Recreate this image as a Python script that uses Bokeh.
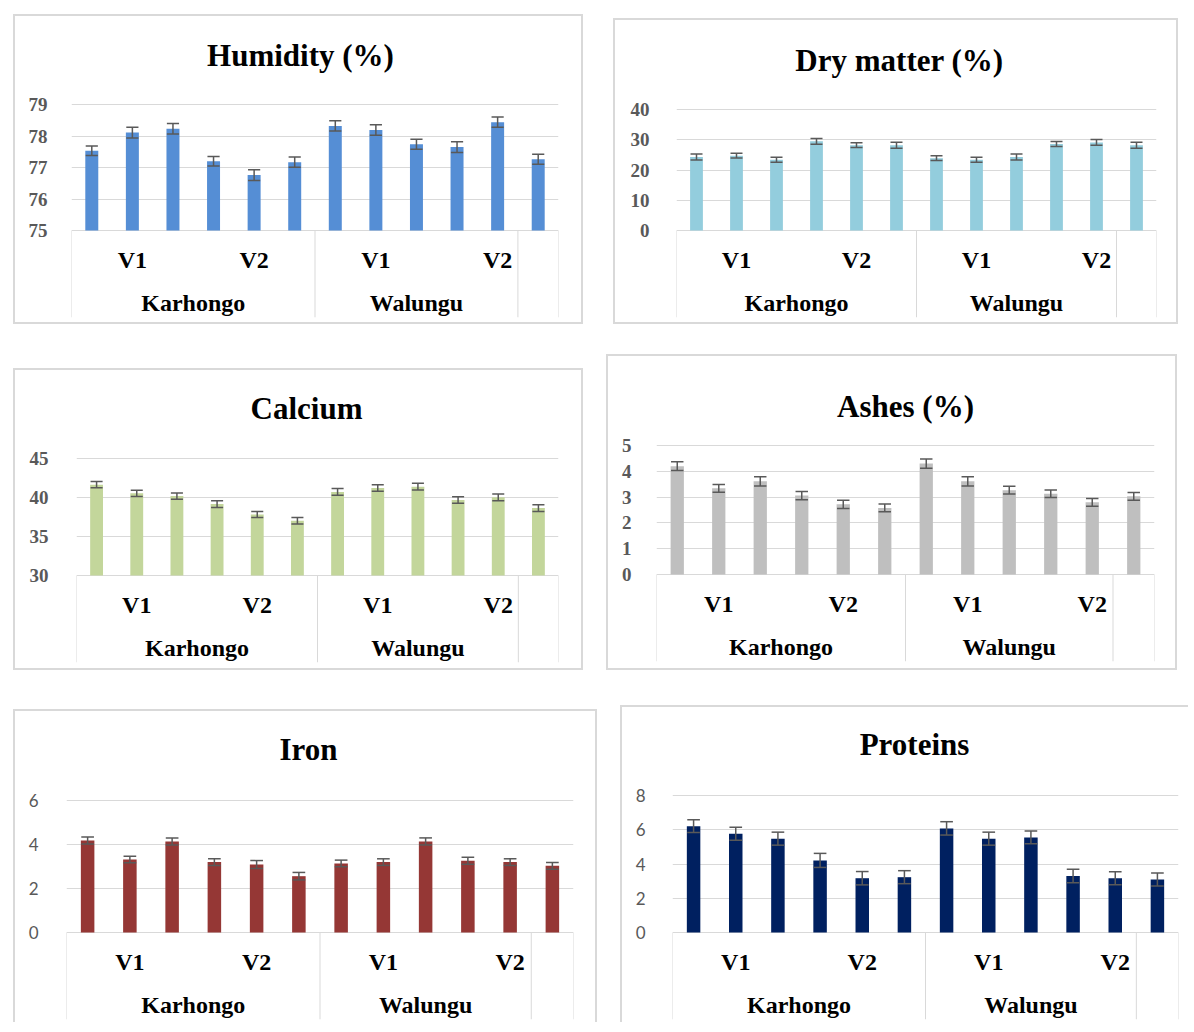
from bokeh.plotting import figure
from bokeh.models import Range1d, FixedTicker, Spacer
from bokeh.layouts import row, column
from bokeh.core.properties import value
from bokeh.embed import file_html
from bokeh.resources import INLINE

# ---------------- data ----------------
varieties = ["V1", "V1", "V1", "V2", "V2", "V2", "V1", "V1", "V1", "V2", "V2", "V2"]
sites = ["Karhongo"] * 6 + ["Walungu"] * 5 + [""]

humidity = [77.53, 78.11, 78.23, 77.20, 76.76, 77.17, 78.32, 78.19, 77.74, 77.65, 78.44, 77.26]
humidity_err = [0.15, 0.17, 0.17, 0.15, 0.17, 0.165, 0.165, 0.165, 0.16, 0.17, 0.16, 0.16]
humidity_ticks = [75, 76, 77, 78, 79]

dry_matter = [24.3, 24.75, 23.4, 29.5, 28.2, 28.2, 23.9, 23.4, 24.3, 28.6, 29.1, 28.2]
dry_matter_err = [1.0, 0.8, 0.8, 0.95, 0.8, 1.0, 0.8, 0.8, 1.0, 0.8, 0.95, 1.0]
dry_matter_ticks = [0, 10, 20, 30, 40]

calcium = [41.65, 40.54, 40.19, 39.16, 37.83, 37.02, 40.71, 41.22, 41.39, 39.68, 40.02, 38.65]
calcium_err = [0.4, 0.4, 0.4, 0.43, 0.39, 0.43, 0.43, 0.43, 0.43, 0.43, 0.43, 0.43]
calcium_ticks = [30, 35, 40, 45]

ashes = [4.20, 3.34, 3.61, 3.06, 2.72, 2.58, 4.30, 3.61, 3.27, 3.13, 2.80, 3.03]
ashes_err = [0.17, 0.15, 0.18, 0.16, 0.16, 0.15, 0.18, 0.18, 0.15, 0.15, 0.15, 0.15]
ashes_ticks = [0, 1, 2, 3, 4, 5]

iron = [4.18, 3.32, 4.14, 3.20, 3.09, 2.56, 3.14, 3.20, 4.14, 3.26, 3.20, 3.03]
iron_err = [0.16, 0.15, 0.16, 0.15, 0.18, 0.17, 0.15, 0.15, 0.16, 0.16, 0.15, 0.15]
iron_ticks = [0, 2, 4, 6]

proteins = [6.21, 5.77, 5.48, 4.21, 3.17, 3.23, 6.08, 5.48, 5.55, 3.30, 3.17, 3.09]
proteins_err = [0.37, 0.38, 0.38, 0.41, 0.39, 0.38, 0.39, 0.38, 0.37, 0.39, 0.38, 0.38]
proteins_ticks = [0, 2, 4, 6, 8]

GRID = "#d9d9d9"
SERIF = "Liberation Serif"


def runs(labels):
    out = []
    start = 0
    for i in range(1, len(labels) + 1):
        if i == len(labels) or labels[i] != labels[start]:
            out.append((labels[start], start, i))
            start = i
    return out


def panel(title, vals, errs, ticks, color, geo, serif_ticks=True):
    ox, oy, ow, oh = geo["outer"]
    bl, bt, br, bb = geo["borders"]
    cw, ch = ow - bl - br, oh - bt - bb
    cx0, cy0 = ox + bl, oy + bt
    fl, fr = geo["frame_x"]
    base_px, top_px = geo["base_px"], geo["top_px"]
    ppu = (base_px - top_px) / (ticks[-1] - ticks[0])
    frame_bottom = min(base_px + 87, cy0 + ch)
    n = len(vals)
    cat_w = (fr - fl) / n
    base = ticks[0]
    y0 = base - (frame_bottom - base_px) / ppu
    y1 = base + (base_px - cy0) / ppu

    styles = {}
    for side, w in zip(["left", "top", "right", "bottom"], [bl, bt, br, bb]):
        styles["border-" + side] = f"{w}px solid {GRID}" if w else "none"

    p = figure(width=cw, height=ch, output_backend="svg", toolbar_location=None,
               tools="", x_range=Range1d(0, n), y_range=Range1d(y0, y1),
               x_axis_location=None,
               min_border_left=fl - cx0, min_border_right=cx0 + cw - fr,
               min_border_top=0, min_border_bottom=cy0 + ch - frame_bottom,
               styles=styles)
    p.outline_line_color = None
    p.background_fill_color = "white"
    p.border_fill_color = "white"

    tk = FixedTicker(ticks=ticks)
    ax = p.yaxis[0]
    ax.ticker = tk
    ax.axis_line_color = None
    ax.major_tick_line_color = None
    ax.minor_tick_line_color = None
    ax.major_label_standoff = geo["standoff"]
    ax.major_label_text_color = "#595959"
    if serif_ticks:
        ax.major_label_text_font = SERIF
        ax.major_label_text_font_style = "bold"
        ax.major_label_text_font_size = "19px"
    else:
        ax.major_label_text_font = "Lato"
        ax.major_label_text_font_style = "normal"
        ax.major_label_text_font_size = "17px"
    p.ygrid.ticker = tk
    p.ygrid.grid_line_color = GRID
    p.ygrid.grid_line_width = 1
    p.xgrid.visible = False

    xs = [i + 0.5 for i in range(n)]
    p.vbar(x=xs, top=vals, bottom=base, width=0.32, fill_color=color, line_color=None)

    lo = [v - e for v, e in zip(vals, errs)]
    hi = [v + e for v, e in zip(vals, errs)]
    ecol = "#595959"
    p.segment(x0=xs, y0=lo, x1=xs, y1=hi, line_color=ecol, line_width=1.5)
    cap = 0.15
    p.segment(x0=[x - cap for x in xs], y0=hi, x1=[x + cap for x in xs], y1=hi,
              line_color=ecol, line_width=1.5)
    p.segment(x0=[x - cap for x in xs], y0=lo, x1=[x + cap for x in xs], y1=lo,
              line_color=ecol, line_width=1.5)

    # category separators (hierarchical axis)
    site_runs = runs(sites)
    bounds = sorted(set([r[1] for r in site_runs] + [n]))
    p.segment(x0=bounds, y0=[base] * len(bounds), x1=bounds, y1=[y0] * len(bounds),
              line_color=GRID, line_width=1)

    v_runs = runs(varieties)
    p.text(x=[(a + b) / 2 for _, a, b in v_runs], y=[base - 29 / ppu] * len(v_runs),
           text=[lab for lab, _, _ in v_runs], text_font=value(SERIF),
           text_font_style="bold", text_font_size="24px", text_color="black",
           text_align="center", text_baseline="middle")
    s_runs = [r for r in site_runs if r[0]]
    p.text(x=[(a + b) / 2 for _, a, b in s_runs], y=[base - 72.5 / ppu] * len(s_runs),
           text=[lab for lab, _, _ in s_runs], text_font=value(SERIF),
           text_font_style="bold", text_font_size="24px", text_color="black",
           text_align="center", text_baseline="middle")

    tx, ty = geo["title"]
    p.text(x=[(tx - fl) / cat_w], y=[base + (base_px - ty) / ppu], text=[title],
           text_font=value(SERIF), text_font_style="bold", text_font_size="31px",
           text_color="black", text_align="center", text_baseline="middle")
    return p


f1 = panel("Humidity (%)", humidity, humidity_err, humidity_ticks, "#558ED5",
           dict(outer=(13, 14, 574, 314), borders=(2, 2, 2, 2), frame_x=(71, 558),
                base_px=230, top_px=104, title=(300, 55), standoff=18))
f2 = panel("Dry matter (%)", dry_matter, dry_matter_err, dry_matter_ticks, "#93CDDD",
           dict(outer=(617, 18, 569, 310), borders=(2, 2, 2, 2), frame_x=(680, 1160),
                base_px=230, top_px=109, title=(903, 60), standoff=21))
f3 = panel("Calcium", calcium, calcium_err, calcium_ticks, "#C3D69B",
           dict(outer=(13, 372, 574, 306), borders=(2, 2, 2, 2), frame_x=(76, 558),
                base_px=579, top_px=462, title=(306, 412), standoff=22))
f4 = panel("Ashes (%)", ashes, ashes_err, ashes_ticks, "#BFBFBF",
           dict(outer=(610, 358, 575, 320), borders=(2, 2, 2, 2), frame_x=(660, 1158),
                base_px=578, top_px=449, title=(909, 410), standoff=19))
f5 = panel("Iron", iron, iron_err, iron_ticks, "#953735",
           dict(outer=(13, 717, 588, 315), borders=(2, 2, 2, 0), frame_x=(66, 573),
                base_px=940, top_px=808, title=(308, 757), standoff=22),
           serif_ticks=False)
f6 = panel("Proteins", proteins, proteins_err, proteins_ticks, "#002060",
           dict(outer=(624, 713, 570, 319), borders=(2, 2, 0, 0), frame_x=(676, 1182),
                base_px=940, top_px=803, title=(918, 752), standoff=21),
           serif_ticks=False)

# page offsets (the page template has no body margin, so the 8px is added here)
r1 = row(Spacer(width=13), column(Spacer(height=6), f1), Spacer(width=30),
         column(Spacer(height=10), f2))
r2 = row(Spacer(width=13), column(Spacer(height=22), f3), Spacer(width=23),
         column(Spacer(height=8), f4))
r3 = row(Spacer(width=13), column(Spacer(height=17), f5), Spacer(width=23),
         column(Spacer(height=13), f6))
page = column(Spacer(height=8), r1, Spacer(height=22), r2, Spacer(height=22), r3)

open("out.html", "w").write(file_html(page, INLINE))
